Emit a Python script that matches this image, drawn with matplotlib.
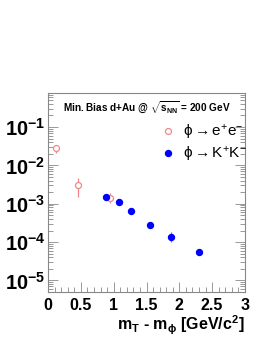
import numpy as np
import matplotlib
matplotlib.use('Agg')
import matplotlib.pyplot as plt
from matplotlib.lines import Line2D
from matplotlib.ticker import FixedLocator, MultipleLocator, LogLocator, NullFormatter

plt.rcParams['font.family'] = ['Liberation Sans', 'DejaVu Sans']
plt.rcParams['mathtext.fontset'] = 'custom'
plt.rcParams['mathtext.rm'] = 'Liberation Sans'
plt.rcParams['mathtext.it'] = 'Liberation Sans:italic'
plt.rcParams['mathtext.bf'] = 'Liberation Sans:bold'

# phi -> e+e- (open circles)
ee_x = [0.117, 0.45, 0.944]
ee_y = [0.0277, 0.0031, 0.00145]
ee_err = [0.0065, 0.0016, 0.0004]

# phi -> K+K- (filled circles)
kk_x = [0.883, 1.076, 1.27, 1.553, 1.873, 2.295]
kk_y = [0.0015, 0.00113, 0.00066, 0.000272, 0.000138, 0.000054]
kk_err = [0.0002, 0.00012, 0.00007, 0.00003, 0.00004, 0.000007]

yticks = [1e-5, 1e-4, 1e-3, 1e-2, 1e-1]
ylabels = [r'$\mathbf{10^{-5}}$', r'$\mathbf{10^{-4}}$', r'$\mathbf{10^{-3}}$',
           r'$\mathbf{10^{-2}}$', r'$\mathbf{10^{-1}}$']
xticks = [0, 0.5, 1, 1.5, 2, 2.5, 3]
xlabels = ['0', '0.5', '1', '1.5', '2', '2.5', '3']

pink = '#f08888'
blue = '#0000ff'

fig = plt.figure(figsize=(2.68, 3.47), dpi=100)
ax = fig.add_axes([48 / 268, 55 / 347, 197 / 268, 199 / 347])

ax.errorbar(ee_x, ee_y, yerr=ee_err, fmt='o', mfc='white', mec=pink, ecolor=pink,
            ms=4.3, mew=0.9, elinewidth=0.9, capsize=0)
ax.errorbar(kk_x, kk_y, yerr=kk_err, fmt='o', mfc=blue, mec=blue, ecolor='#6a6aff',
            ms=4.3, elinewidth=0.9, capsize=0)

ax.set_yscale('log')
ax.set_xlim(0, 3)
ax.set_ylim(5e-6, 0.77)

ax.yaxis.set_major_locator(FixedLocator(yticks))
ax.set_yticklabels(ylabels, fontsize=14.5)
ax.yaxis.set_minor_locator(LogLocator(base=10, subs=np.arange(2, 10)))
ax.yaxis.set_minor_formatter(NullFormatter())
ax.xaxis.set_major_locator(FixedLocator(xticks))
ax.set_xticklabels(xlabels, fontsize=11.5, fontweight='bold')
ax.xaxis.set_minor_locator(MultipleLocator(0.1))

ax.tick_params(which='both', direction='in', right=True, top=False, width=0.6, color='#888888')
ax.tick_params(which='major', length=7)
ax.tick_params(which='minor', length=3.5)
ax.tick_params(axis='x', which='major', pad=4)
ax.tick_params(axis='y', which='major', pad=2)
for s in ax.spines.values():
    s.set_color('#888888')
    s.set_linewidth(0.8)

ax.text(0.5, 0.925, r'Min. Bias d+Au @ $\sqrt{\mathbf{s_{NN}}}$ = 200 GeV', transform=ax.transAxes,
        ha='center', va='center', fontsize=7.2, fontweight='bold')

handles = [
    Line2D([], [], ls='none', marker='o', mfc='white', mec=pink, ms=4.3, mew=0.9),
    Line2D([], [], ls='none', marker='o', mfc=blue, mec=blue, ms=4.3),
]
labels = [r'$\mathrm{\phi \rightarrow e^{+}e^{-}}$', r'$\mathrm{\phi \rightarrow K^{+}K^{-}}$']
ax.legend(handles, labels, loc='upper left', bbox_to_anchor=(0.59, 0.85), frameon=False, fontsize=11,
          handlelength=0.5, handletextpad=0.7, labelspacing=0.2, borderpad=0, borderaxespad=0)

fig.text(245 / 268, 1 - 325 / 347, r'$\mathbf{m_{T}}$ - $\mathbf{m_{\phi}}$ [GeV/c$^{\mathbf{2}}$]',
         ha='right', va='center', fontsize=11.5, fontweight='bold')

fig.savefig('out.png', dpi=100)
